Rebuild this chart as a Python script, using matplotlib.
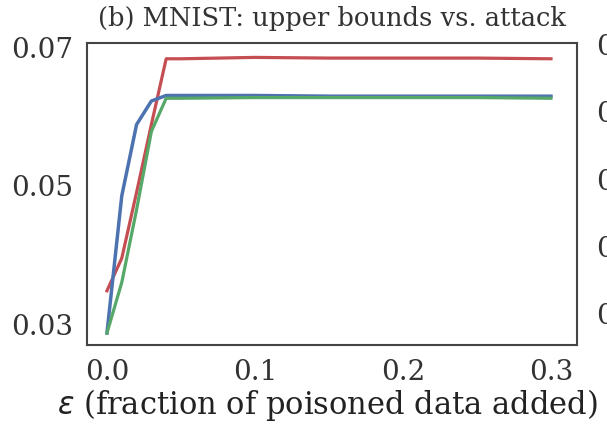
import matplotlib
matplotlib.use('Agg')
import matplotlib.pyplot as plt

plt.rcParams['font.family'] = ['DejaVu Serif']

# fraction of poisoned data added
eps = [0.0, 0.01, 0.02, 0.03, 0.04, 0.05, 0.1, 0.15, 0.2, 0.25, 0.3]

red_vals = [0.0348, 0.0395, 0.0490, 0.0588, 0.0683, 0.0683, 0.0685, 0.0684, 0.0684, 0.0684, 0.0683]
blue_vals = [0.0287, 0.0485, 0.0588, 0.0622, 0.0630, 0.0630, 0.0630, 0.0629, 0.0629, 0.0629, 0.0629]
green_vals = [0.0287, 0.0360, 0.0465, 0.0578, 0.0626, 0.0626, 0.0627, 0.0627, 0.0627, 0.0627, 0.0626]

y_ticks = [0.03, 0.05, 0.07]
x_ticks = [0.0, 0.1, 0.2, 0.3]

# neighbouring panel, cut off at the right edge
next_ticks = [0.00, 0.02, 0.04, 0.06, 0.08]

red = '#C44E52'
blue = '#4C72B0'
green = '#55A868'

fig = plt.figure(figsize=(6.07, 4.24), dpi=100)
ax = fig.add_axes([0.1433, 0.1863, 0.8073, 0.7123])

ax.plot(eps, red_vals, color=red, lw=2.3)
ax.plot(eps, blue_vals, color=blue, lw=2.5)
ax.plot(eps, green_vals, color=green, lw=2.3)

ax.set_xlim(-0.0135, 0.3176)
ax.set_ylim(0.02697, 0.07058)
ax.set_xticks(x_ticks)
ax.set_xticklabels(['0.0', '0.1', '0.2', '0.3'])
ax.set_yticks(y_ticks)
ax.set_yticklabels(['0.03', '0.05', '0.07'])
ax.tick_params(length=0, labelsize=20, colors='#333333')
ax.tick_params(axis='x', pad=10)
ax.tick_params(axis='y', pad=10)
for s in ax.spines.values():
    s.set_color('#444444')
    s.set_linewidth(1.5)

ax.set_xlabel(r'$\epsilon$ (fraction of poisoned data added)', fontsize=22,
              color='#222222', labelpad=1)
ax.xaxis.label.set_x(0.49)
ax.set_title('(b) MNIST: upper bounds vs. attack', fontsize=18.5,
             color='#333333', x=0.5, pad=12)

# right-hand panel, mostly outside the canvas
ax2 = fig.add_axes([1.107, 0.1863, 0.8, 0.7123])
ax2.set_ylim(next_ticks[0] - 0.02 * 32 / 67, next_ticks[-1] + 0.02 * 2 / 67)
ax2.set_yticks(next_ticks)
ax2.set_yticklabels(['%.2f' % v for v in next_ticks])
ax2.set_xticks([])
ax2.tick_params(length=0, labelsize=20, colors='#333333', pad=10)

fig.savefig('out.png', dpi=100)
